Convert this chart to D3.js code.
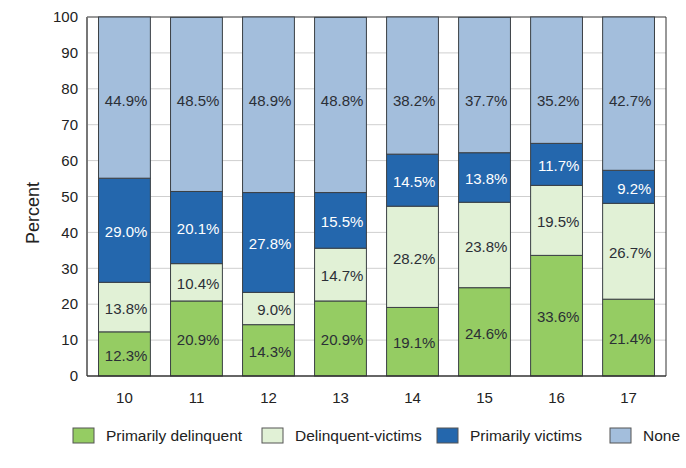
<!DOCTYPE html>
<html><head><meta charset="utf-8">
<script src="https://cdn.jsdelivr.net/npm/d3@7"></script>
<style>body{margin:0;background:#fff;} text{font-family:"Helvetica","Liberation Sans","DejaVu Sans",sans-serif;}</style>
</head><body>
<svg id="c" width="686" height="468"></svg>
<script>
const ages = ["10","11","12","13","14","15","16","17"];
const seriesNames = ["Primarily delinquent","Delinquent-victims","Primarily victims","None"];
const primarilyDelinquent = [12.3,20.9,14.3,20.9,19.1,24.6,33.6,21.4];
const delinquentVictims = [13.8,10.4,9.0,14.7,28.2,23.8,19.5,26.7];
const primarilyVictims = [29.0,20.1,27.8,15.5,14.5,13.8,11.7,9.2];
const none = [44.9,48.5,48.9,48.8,38.2,37.7,35.2,42.7];
const yTicks = [0,10,20,30,40,50,60,70,80,90,100];

const colors = ["#95cc63","#e1f1d6","#2467ad","#a3bedc"];
const textColors = ["#2b2f36","#2b2f36","#fff","#2b2f36"];
const seriesData = [primarilyDelinquent, delinquentVictims, primarilyVictims, none];

const svg = d3.select("#c");
const m = {l:87, r:666, t:17, b:376};
const x = d3.scaleBand().domain(ages).range([m.l, m.r]).paddingInner(0.28).paddingOuter(0.16);
const y = d3.scaleLinear().domain([0,100]).range([m.b, m.t]);

// grid
svg.append("g").selectAll("line").data(yTicks.filter(d=>d>0 && d<100)).join("line")
  .attr("x1", m.l).attr("x2", m.r).attr("y1", d=>y(d)).attr("y2", d=>y(d))
  .attr("stroke","#cfcfcf").attr("stroke-width",1);

// frame
svg.append("line").attr("x1",m.l).attr("x2",m.r).attr("y1",m.t).attr("y2",m.t).attr("stroke","#333").attr("stroke-width",1);
svg.append("line").attr("x1",m.r).attr("x2",m.r).attr("y1",m.t).attr("y2",m.b).attr("stroke","#333").attr("stroke-width",1);

// stack
const rows = ages.map((a,i)=>{const o={age:a}; seriesNames.forEach((s,j)=>o[s]=seriesData[j][i]); return o;});
const stack = d3.stack().keys(seriesNames)(rows);

stack.forEach((layer,j)=>{
  const g = svg.append("g");
  g.selectAll("rect").data(layer).join("rect")
    .attr("x", d=>x(d.data.age)).attr("width", x.bandwidth())
    .attr("y", d=>y(d[1])).attr("height", d=>y(d[0])-y(d[1]))
    .attr("fill", colors[j]).attr("stroke","#3a3f44").attr("stroke-width",1);
});
stack.forEach((layer,j)=>{
  svg.append("g").selectAll("text").data(layer).join("text")
    .attr("x", d=>x(d.data.age)+x.bandwidth()-3)
    .attr("y", d=> j===3 ? y(77) : (y(d[0])+y(d[1]))/2)
    .attr("dy","0.45em").attr("text-anchor","end")
    .attr("font-size",15).attr("fill",textColors[j])
    .text(d=>d.data[seriesNames[j]].toFixed(1)+"%");
});

// axes
svg.append("line").attr("x1",m.l).attr("x2",m.l).attr("y1",m.t).attr("y2",m.b).attr("stroke","#777").attr("stroke-width",2);
svg.append("line").attr("x1",m.l).attr("x2",m.r).attr("y1",m.b).attr("y2",m.b).attr("stroke","#333").attr("stroke-width",1.5);

svg.append("g").selectAll("text").data(yTicks).join("text")
  .attr("x", 78).attr("y", d=>y(d)).attr("dy","0.35em").attr("text-anchor","end")
  .attr("font-size",15).attr("fill","#222").text(d=>d);

svg.append("g").selectAll("text").data(ages).join("text")
  .attr("x", d=>x(d)+x.bandwidth()/2).attr("y", 398).attr("dy","0.35em").attr("text-anchor","middle")
  .attr("font-size",15).attr("fill","#222").text(d=>d);

svg.append("text").attr("transform","translate(39,213) rotate(-90)").attr("text-anchor","middle")
  .attr("font-size",18).attr("fill","#222").text("Percent");

// legend
const legX = [73, 262, 437, 610];
const lg = svg.append("g");
seriesNames.forEach((s,j)=>{
  lg.append("rect").attr("x",legX[j]).attr("y",428).attr("width",21).attr("height",15)
    .attr("fill",colors[j]).attr("stroke","#555").attr("stroke-width",1);
  lg.append("text").attr("x",legX[j]+33).attr("y",436).attr("dy","0.35em")
    .attr("font-size",15.5).attr("fill","#222").text(s);
});
</script>
</body></html>
